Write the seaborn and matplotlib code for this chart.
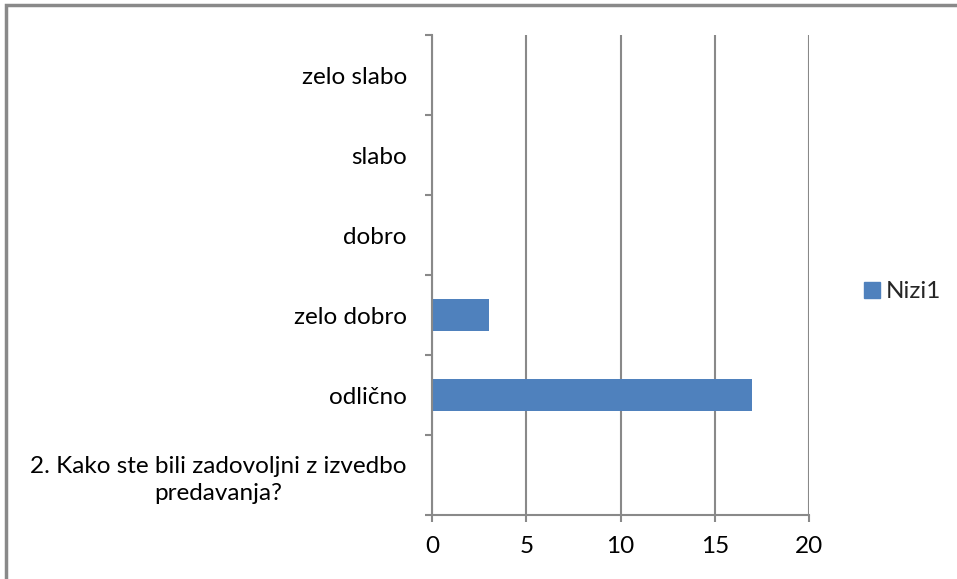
import matplotlib.pyplot as plt
import matplotlib.patches as mpatches
import seaborn as sns
import pandas as pd

categories = [
    "zelo slabo",
    "slabo",
    "dobro",
    "zelo dobro",
    "odlično",
    "2. Kako ste bili zadovoljni z izvedbo\npredavanja?",
]
values = [0, 0, 0, 3, 17, 0]
series_name = "Nizi1"
x_ticks = [0, 5, 10, 15, 20]

BAR_COLOR = "#4F81BD"
LINE_COLOR = "#898989"
FONT_SIZE = 17.5

sns.set_theme(style="white")
plt.rcParams["font.family"] = ["Lato", "DejaVu Sans"]

df = pd.DataFrame({"cat": categories, "val": values})

fig = plt.figure(figsize=(9.57, 5.79), dpi=100)
ax = fig.add_axes([432 / 957, 1 - 515 / 579, (809 - 432) / 957, (515 - 35) / 579])

sns.barplot(data=df, y="cat", x="val", orient="h", color=BAR_COLOR,
            saturation=1, width=0.4, linewidth=0, ax=ax)

ax.set_xlim(0, 20)
ax.set_ylim(len(categories) - 0.5, -0.5)
ax.set_xticks(x_ticks)
ax.set_yticks(range(len(categories)), labels=categories,
              multialignment="center", linespacing=1.35)
ax.set_xlabel("")
ax.set_ylabel("")

# gridlines on x
ax.xaxis.grid(True, color=LINE_COLOR, linewidth=1.5)
ax.set_axisbelow(True)

for side in ["top", "right"]:
    ax.spines[side].set_visible(False)
for side in ["left", "bottom"]:
    ax.spines[side].set_color(LINE_COLOR)
    ax.spines[side].set_linewidth(1.5)

# category boundary ticks
ax.set_yticks([i - 0.5 for i in range(len(categories) + 1)], minor=True)
ax.tick_params(axis="y", which="minor", left=True, length=5, width=1.5,
               color=LINE_COLOR, direction="out")
ax.tick_params(axis="y", which="major", length=0, pad=18, labelsize=FONT_SIZE, labelcolor="black")
ax.tick_params(axis="x", which="major", length=5, width=1.5, color=LINE_COLOR,
               direction="out", pad=10, labelsize=FONT_SIZE, labelcolor="black", bottom=True)

handle = mpatches.Patch(color=BAR_COLOR, label=series_name)
fig.legend(handles=[handle], loc="center left", bbox_to_anchor=(864 / 957, 1 - 292 / 579),
           frameon=False, fontsize=FONT_SIZE, handlelength=0.65, handleheight=0.65,
           handletextpad=0.25, borderaxespad=0, borderpad=0)

# outer chart border
border = mpatches.Rectangle((6 / 957, -0.1), 1.2, 1 - 5 / 579 + 0.1, transform=fig.transFigure,
                            fill=False, edgecolor=LINE_COLOR, linewidth=2.5)
fig.patches.append(border)

fig.savefig("out.png", dpi=100)
